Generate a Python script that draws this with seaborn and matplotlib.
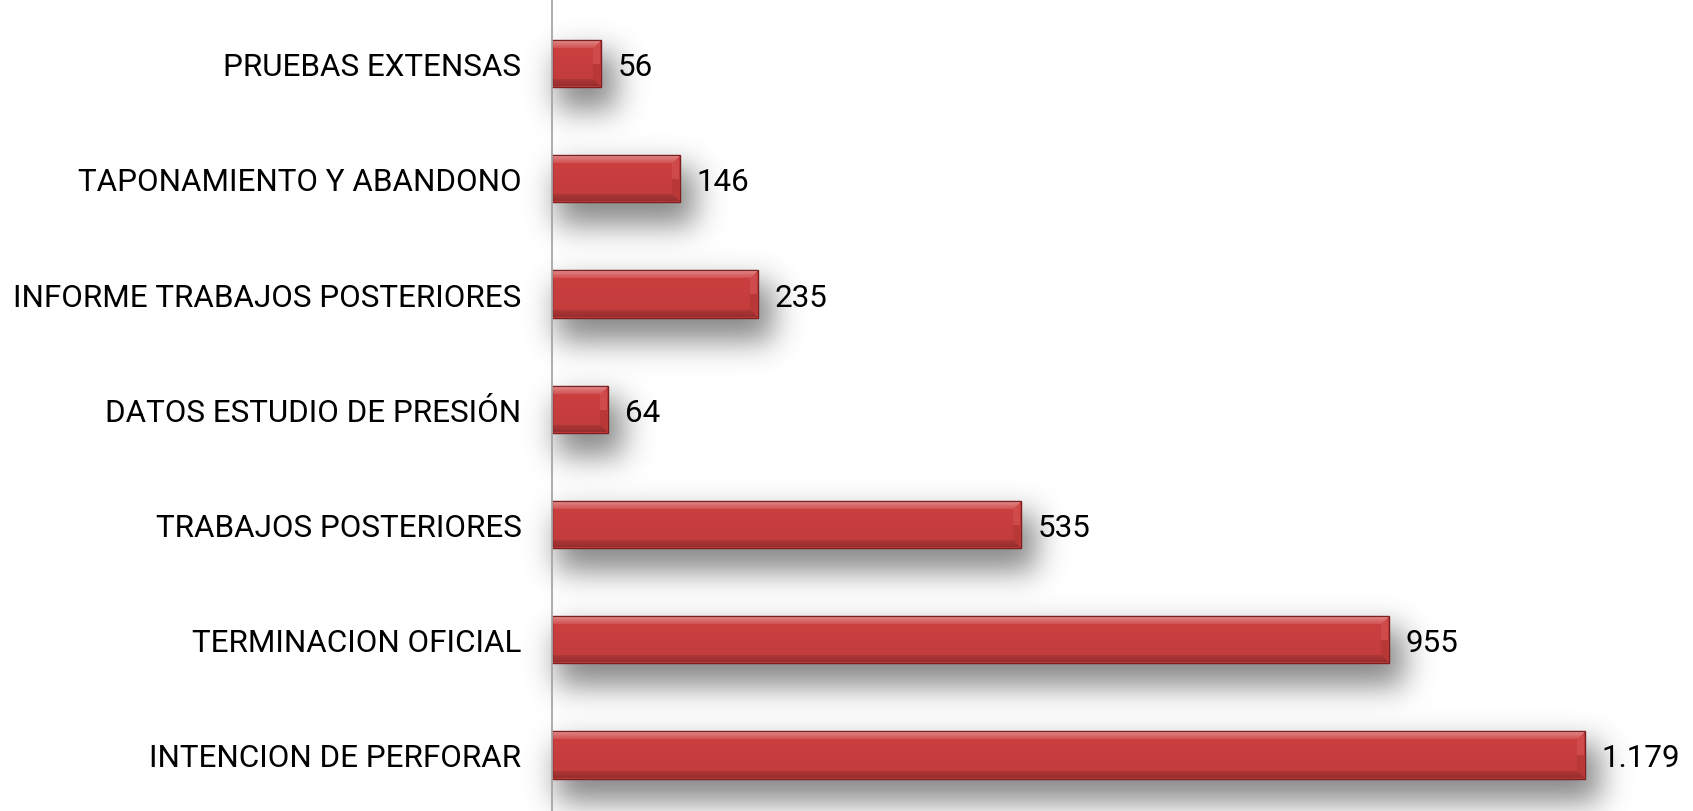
# === 0. IMPORT LIBRARIES ===
import numpy as np
import pandas as pd
import seaborn as sns
import matplotlib.pyplot as plt

# === 1. DATA ===
categorias = [
    "PRUEBAS EXTENSAS",
    "TAPONAMIENTO Y ABANDONO",
    "INFORME TRABAJOS POSTERIORES",
    "DATOS ESTUDIO DE PRESIÓN",
    "TRABAJOS POSTERIORES",
    "TERMINACION OFICIAL",
    "INTENCION DE PERFORAR",
]
valores = [56, 146, 235, 64, 535, 955, 1179]
etiquetas = ["56", "146", "235", "64", "535", "955", "1.179"]

df = pd.DataFrame({"categoria": categorias, "valor": valores})

# === 2. FIGURE SETUP ===
sns.set_style("white")
plt.rcParams['font.family'] = ['Roboto', 'DejaVu Sans']

W, H = 1693, 812
fig = plt.figure(figsize=(W / 100, H / 100), dpi=100)

# background layer for the soft drop shadow
ax_bg = fig.add_axes([0, 0, 1, 1], zorder=0)
ax_bg.axis("off")

ax = fig.add_axes([552 / W, 0, 1 - 552 / W, 1], zorder=1)
ax.patch.set_alpha(0)

sns.barplot(data=df, x="valor", y="categoria", orient="h", color="#cd3f3f",
            width=0.41, edgecolor="#7a2020", linewidth=1.0, saturation=1, ax=ax)

ax.set_xlim(0, 1302)
ax.set_ylim(6.486, -0.56)
ax.set_xlabel("")
ax.set_ylabel("")
ax.set_xticks([])
ax.tick_params(axis="y", length=0, pad=22, labelsize=22.6, labelcolor="black")
for lab in ax.get_yticklabels():
    lab.set_verticalalignment("center_baseline")

for s in ["top", "right", "bottom"]:
    ax.spines[s].set_visible(False)
ax.spines["left"].set_color("#a6a6a6")
ax.spines["left"].set_linewidth(1.3)

# value labels at the end of every bar
for i, (v, t) in enumerate(zip(valores, etiquetas)):
    ax.annotate(t, (v, i), xytext=(12, 0), textcoords="offset points",
                ha="left", va="center_baseline", fontsize=22.6, color="black")

# === 3. SHADOW + BEVEL (built from the drawn bars) ===
fig.canvas.draw()
boxes = []
for p in ax.patches:
    bb = p.get_window_extent()
    c0, c1 = int(round(bb.x0)), int(round(bb.x1))
    r0, r1 = int(round(H - bb.y1)), int(round(H - bb.y0))
    boxes.append((c0, c1, r0, r1))

# blurred shadow mask
mask = np.zeros((H, W))
dx, dy, grow = 10, 18, 5
for c0, c1, r0, r1 in boxes:
    mask[max(r0 + dy - grow, 0):min(r1 + dy + grow, H), max(c0 + dx - grow, 0):min(c1 + dx + grow, W)] = 1.0

sigma = 15
k = np.arange(-3 * sigma, 3 * sigma + 1)
kern = np.exp(-k ** 2 / (2 * sigma ** 2))
kern /= kern.sum()
blur = np.apply_along_axis(lambda v: np.convolve(v, kern, mode="same"), 1, mask)
blur = np.apply_along_axis(lambda v: np.convolve(v, kern, mode="same"), 0, blur)

shadow = np.ones((H, W, 4))
shadow[..., :3] = 0.22
shadow[..., 3] = 0.6 * blur
ax_bg.imshow(shadow, extent=(0, W, H, 0), aspect="auto", interpolation="nearest")
ax_bg.set_xlim(0, W)
ax_bg.set_ylim(H, 0)

# bevel overlay on top of the bars
ax_fx = fig.add_axes([0, 0, 1, 1], zorder=2)
ax_fx.axis("off")
fx = np.zeros((H, W, 4))
b = 8
for c0, c1, r0, r1 in boxes:
    rr, cc = np.mgrid[r0 + 1:r1 - 1, c0 + 1:c1 - 1]
    dt = rr - r0
    db = r1 - 1 - rr
    dr = c1 - 1 - cc
    m = np.minimum(np.minimum(dt, db), dr)
    rgba = np.zeros(rr.shape + (4,))
    t = (rr - r0) / max(r1 - r0, 1)
    rgba[..., 3] = 0.06 * t
    top = (m == dt) & (m < b)
    rgba[top, :3] = 1.0
    rgba[top, 3] = 0.08 + 0.30 * (1 - dt[top] / b)
    bot = (m == db) & (m < b) & ~top
    rgba[bot, :3] = 0.0
    rgba[bot, 3] = 0.14 + 0.14 * (1 - db[bot] / b)
    rgt = (m == dr) & (m < b) & ~top & ~bot
    upper = rgt & (t < 0.5)
    lower = rgt & (t >= 0.5)
    rgba[upper, :3] = 1.0
    rgba[upper, 3] = 0.06
    rgba[lower, :3] = 0.0
    rgba[lower, 3] = 0.10
    fx[r0 + 1:r1 - 1, c0 + 1:c1 - 1] = rgba
ax_fx.imshow(fx, extent=(0, W, H, 0), aspect="auto", interpolation="nearest")
ax_fx.set_xlim(0, W)
ax_fx.set_ylim(H, 0)

plt.savefig("out.png", dpi=100)
